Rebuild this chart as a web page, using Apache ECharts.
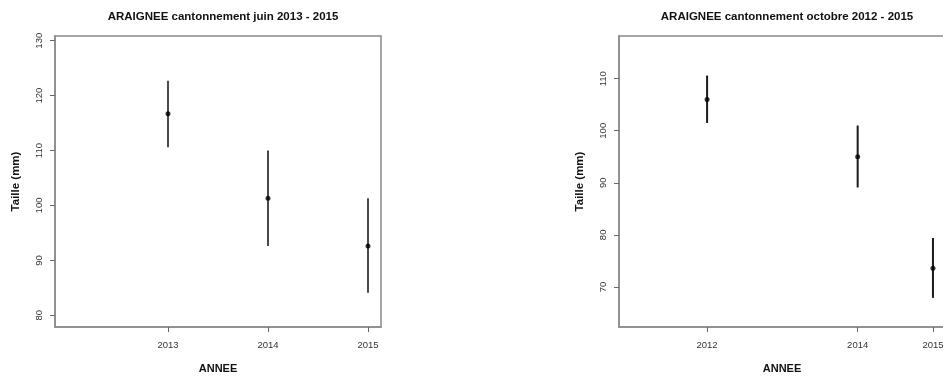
<!DOCTYPE html>
<html>
<head>
<meta charset="utf-8">
<script src="https://cdn.jsdelivr.net/npm/echarts@6/dist/echarts.min.js"></script>
<style>
  html, body { margin: 0; padding: 0; background: #fff; }
  #chart { width: 943px; height: 376px; }
</style>
</head>
<body>
<div id="chart"></div>
<script>
// Juin 2013 - 2015 : taille moyenne et intervalle
const juinAnnees = [2013, 2014, 2015];
const juinMoyenne = [116.7, 101.3, 92.6];
const juinBas = [110.6, 92.6, 84.1];
const juinHaut = [122.7, 110.0, 101.3];

// Octobre 2012 - 2015
const octAnnees = [2012, 2014, 2015];
const octMoyenne = [106.0, 95.0, 73.6];
const octBas = [101.5, 89.1, 67.9];
const octHaut = [110.6, 101.0, 79.4];

// Graduations des axes
const juinTicksY = [80, 90, 100, 110, 120, 130];
const juinTicksX = [2013, 2014, 2015];
const octTicksY = [70, 80, 90, 100, 110];
const octTicksX = [2012, 2014, 2015];

const FONT = '"Liberation Sans", Arial, Helvetica, sans-serif';

function errorData(annees, bas, haut) {
  return annees.map((a, i) => [a, bas[i], haut[i]]);
}
function pointData(annees, moy) {
  return annees.map((a, i) => [a, moy[i]]);
}
function errorSeries(idx, data, color) {
  return {
    type: 'custom',
    xAxisIndex: idx, yAxisIndex: idx,
    data: data,
    clip: false,
    renderItem: function (params, api) {
      const p1 = api.coord([api.value(0), api.value(1)]);
      const p2 = api.coord([api.value(0), api.value(2)]);
      return {
        type: 'line',
        shape: { x1: p1[0], y1: p1[1], x2: p2[0], y2: p2[1] },
        style: { stroke: color, lineWidth: 2 }
      };
    },
    z: 2
  };
}
function xAxisCfg(idx, min, max, ticks) {
  return {
    type: 'value', gridIndex: idx, min: min, max: max,
    name: 'ANNEE', nameLocation: 'middle', nameGap: 36,
    nameTextStyle: { fontFamily: FONT, fontWeight: 'bold', fontSize: 11, color: '#111' },
    axisLine: { show: true, onZero: false, lineStyle: { color: '#8a8a8a', width: 1.5 } },
    axisTick: { show: true, inside: false, length: 5, customValues: ticks, lineStyle: { color: '#666' } },
    axisLabel: { customValues: ticks, margin: 13, fontFamily: FONT, fontSize: 9.5, color: '#333',
                 hideOverlap: false, formatter: v => String(v) },
    splitLine: { show: false }
  };
}
function yAxisCfg(idx, min, max, ticks) {
  return {
    type: 'value', gridIndex: idx, min: min, max: max,
    name: 'Taille (mm)', nameLocation: 'middle', nameGap: 33, nameRotate: 90,
    nameTextStyle: { fontFamily: FONT, fontWeight: 'bold', fontSize: 11.5, color: '#111' },
    axisLine: { show: true, onZero: false, lineStyle: { color: '#8a8a8a', width: 1.5 } },
    axisTick: { show: true, inside: false, length: 5, customValues: ticks, lineStyle: { color: '#666' } },
    axisLabel: { customValues: ticks, rotate: 90, margin: 11, fontFamily: FONT, fontSize: 9.5, color: '#333',
                 formatter: v => String(v) },
    splitLine: { show: false }
  };
}

const chart = echarts.init(document.getElementById('chart'), null, { renderer: 'canvas' });
chart.setOption({
  animation: false,
  backgroundColor: '#fff',
  title: [
    { text: 'ARAIGNEE cantonnement juin 2013 - 2015', left: 218, top: 6, textAlign: 'center',
      textStyle: { fontFamily: FONT, fontWeight: 'bold', fontSize: 11.5, color: '#111' } },
    { text: 'ARAIGNEE cantonnement octobre 2012 - 2015', left: 782, top: 6, textAlign: 'center',
      textStyle: { fontFamily: FONT, fontWeight: 'bold', fontSize: 11.5, color: '#111' } }
  ],
  grid: [
    { left: 55, top: 36, width: 326, height: 291, show: true, borderColor: '#8a8a8a', borderWidth: 1.5,
      backgroundColor: 'transparent', outerBoundsMode: 'none', containLabel: false },
    { left: 619, top: 36, width: 326, height: 291, show: true, borderColor: '#8a8a8a', borderWidth: 1.5,
      backgroundColor: 'transparent', outerBoundsMode: 'none', containLabel: false }
  ],
  xAxis: [
    xAxisCfg(0, 2011.87, 2015.13, juinTicksX),
    xAxisCfg(1, 2010.83, 2015.16, octTicksX)
  ],
  yAxis: [
    yAxisCfg(0, 77.87, 130.86, juinTicksY),
    yAxisCfg(1, 62.3, 118.2, octTicksY)
  ],
  series: [
    errorSeries(0, errorData(juinAnnees, juinBas, juinHaut), '#4a4a4a'),
    errorSeries(1, errorData(octAnnees, octBas, octHaut), '#1a1a1a'),
    { type: 'scatter', xAxisIndex: 0, yAxisIndex: 0, data: pointData(juinAnnees, juinMoyenne),
      symbol: 'circle', symbolSize: 5, itemStyle: { color: '#000' }, z: 3 },
    { type: 'scatter', xAxisIndex: 1, yAxisIndex: 1, data: pointData(octAnnees, octMoyenne),
      symbol: 'circle', symbolSize: 5, itemStyle: { color: '#000' }, z: 3 }
  ]
});
</script>
</body>
</html>
